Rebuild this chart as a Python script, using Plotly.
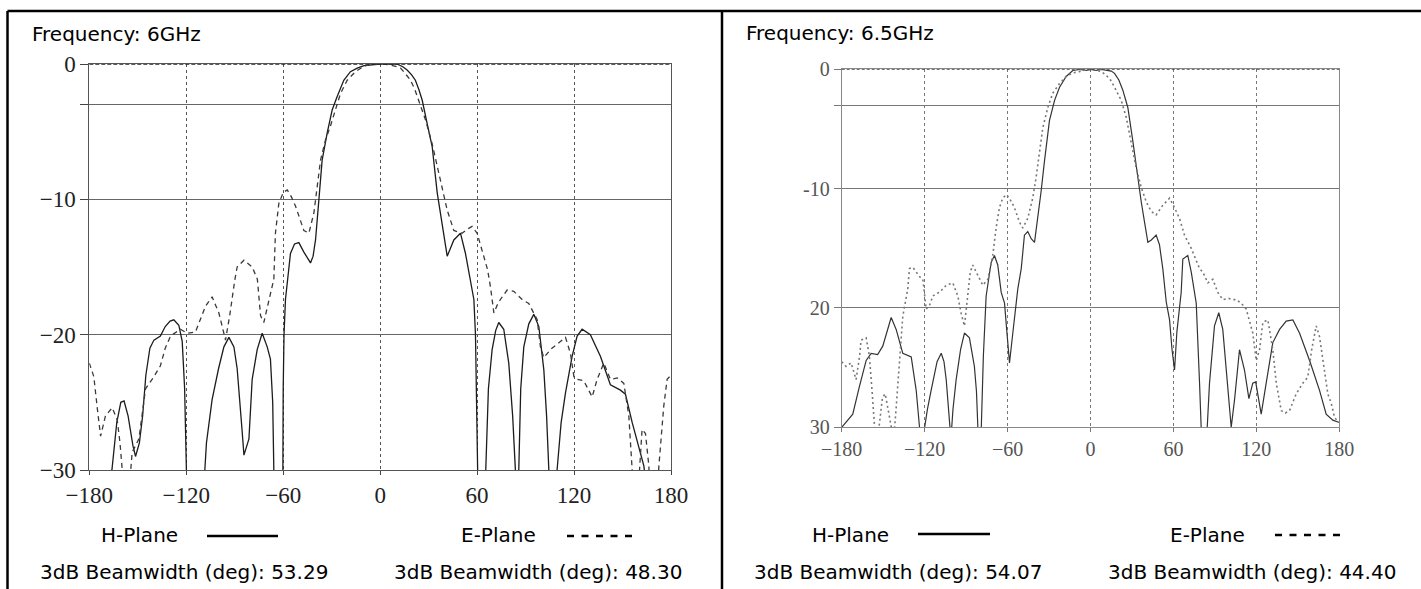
import plotly.graph_objects as go

W, H = 1421, 589

# ---------------- data ----------------
tick_deg = [-180, -120, -60, 0, 60, 120, 180]
tick_deg_text = ["\u2212180", "\u2212120", "\u221260", "0", "60", "120", "180"]
tick_db = [0, -3, -10, -20, -30]
tick_db_text_6 = ["0", "", "\u221210", "\u221220", "\u221230"]
tick_db_text_65 = ["0", "", "-10", "20", "30"]

# 6 GHz, H-plane (solid)
h6_deg = [-180, -168, -166, -163, -160.5, -158.5, -156, -153, -151.4, -149, -147, -145, -142.5, -140, -136, -133, -130,
          -127.7, -124.6, -122.5, -121, -120, -119, -114, -109, -107.5, -104, -100, -96.7, -93.6, -90.5, -88.5, -87.4,
          -85.5, -84.3, -81.2, -79.2, -76.1, -73, -69.9, -67.9, -66.5, -65.8, -64.5, -61, -60.2, -60, -59.5, -58.6, -57,
          -55.5, -53, -50.3, -47.2, -43.1, -41.5, -40, -37.9, -35.9, -32.8, -29.7, -26.6, -22.5, -18.4, -14.2, -10, -6,
          0, 5, 10.5, 14, 16.7, 19.5, 21.8, 24, 26, 29.1, 32.2, 35.3, 38.4, 41.5, 45.6, 49.7, 52.8, 55.9, 58, 59, 60,
          61, 64, 65.2, 67, 69.3, 71.5, 73.4, 76.5, 79.6, 82, 83.7, 84.5, 85, 85.8, 87, 88.9, 92, 95.1, 98.2, 101.3,
          103, 104.4, 105, 109, 109.5, 112, 114.7, 118.8, 121.9, 125, 130.1, 136.3, 142.5, 148.7, 151.8, 156, 160,
          163.2, 164.5, 170, 180]
h6_db = [-34, -31, -30, -26.5, -25.0, -24.9, -26, -28.2, -29, -28, -26, -23, -21, -20.4, -20.1, -19.4, -19.0,
         -18.9, -19.3, -20.5, -24, -30, -35, -35, -31, -28, -24.8, -22.5, -20.9, -20.2, -20.9, -22.5, -24,
         -27, -28.9, -27.7, -23.3, -21.1, -19.9, -20.9, -21.8, -25, -30, -35, -35, -30, -24, -20, -17.4, -15.5,
         -14, -13.3, -13.2, -13.9, -14.7, -14.2, -13, -10, -7.1, -5.1, -3.4, -2.4, -1.2, -0.57, -0.3, -0.12, -0.05,
         0, 0, 0, -0.2, -0.44, -0.8, -1.2, -1.9, -2.66, -4.4, -6.1, -9.5, -12, -14.2, -13, -12.5, -14, -16.2, -17.4, -20, -27,
         -35, -35, -30, -24, -21.1, -19.7, -19.1, -19.6, -22.1, -26, -30, -35, -35, -30, -24, -20.9, -19.2, -18.5, -19.4, -22.6,
         -26, -30, -35, -35, -30, -26.5, -24.3, -21.6, -20.1, -19.6, -20, -21.6, -23.7, -24.1, -24.4, -26.5, -28.2,
         -29.7, -31, -34, -36]

# 6 GHz, E-plane (dashed)
e6_deg = [-180, -177.2, -175, -173, -170, -165.8, -162.7, -161, -159.6, -158, -155, -153.5, -149.3, -147, -145.2, -140,
          -136, -133, -129.7, -123.6, -119.4, -114.3, -111, -108.1, -104, -99.8, -95.7, -93, -90, -88.5, -84.3, -79.2,
          -76, -74, -72, -68.9, -65.8, -64.8, -62.7, -60, -57.5, -55, -52.4, -47.2, -44.1, -41, -39, -36.9, -33.8, -30.8,
          -27.7, -24.6, -20.4, -15.3, -10, -5, 0, 5, 9, 12.6, 15.5, 18.8, 21.5, 23.9, 28, 32.2, 35.3, 38.4, 41.5, 45.6,
          50.7, 54, 56.9, 60, 62, 64.2, 66.5, 68.3, 70.4, 72.5, 74.4, 78.6, 82.7, 87.9, 92, 97.2, 99.2, 101.3, 105.4, 110.6,
          114.7, 117.8, 119.9, 121.9, 126, 131.2, 134.3, 138.4, 142.5, 146.7, 150.8, 153.9, 155.9, 157, 160, 162.1, 164.2,
          166.3, 167.5, 171, 172.5, 175.5, 177.6, 180]
e6_db = [-22.1, -23.1, -25.5, -27.5, -26, -25.4, -26.3, -28, -30, -33, -31, -28.7, -27.7, -25.5, -24, -23.1,
         -22.3, -21, -20.1, -19.6, -19.9, -19.8, -18.8, -17.9, -17.2, -18.4, -20.4, -18.5, -16, -15, -14.5, -15,
         -15.9, -18.6, -19.1, -17.4, -15.9, -12.5, -10.3, -9.5, -9.3, -9.8, -10.5, -12.3, -12.5, -11, -9.1, -7.1, -5.6, -4.6,
         -3.4, -2.2, -1.2, -0.57, -0.15, -0.03, 0, -0.05, -0.15, -0.3, -0.7, -1.2, -1.9, -2.66, -4.1, -5.9, -7.6, -9.3, -10.8, -12.3,
         -12.5, -12.2, -12, -12.5, -13.3, -14.2, -15.2, -16.5, -18.4, -17.8, -17.4, -16.7, -16.8, -17.4, -17.7, -18.9, -20.9, -21.7, -21.1, -20.6,
         -20.2, -21.4, -23.1, -23.3, -23.4, -24.6, -23.3, -22.1, -23.3, -23.2, -23.6, -26, -29.7, -32, -31, -27, -27.3,
         -29.7, -33, -33, -29.7, -25.3, -23.3, -23]

# 6.5 GHz, H-plane (solid)
h65_deg = [-180, -177, -172, -167.2, -162.3, -158.7, -154, -150.3, -147, -144.2, -140.6, -135.8, -129.7, -126.1, -123.7,
           -122.5, -121.3, -118, -115.3, -111, -108, -106, -104.4, -102, -101, -99.5, -97.2, -94, -91.2, -87.6, -84,
           -82.5, -81.6, -80.5, -79, -77.5, -75.5, -71.9, -69.5, -67.1, -64.6, -62.2, -60.5, -58.6, -56.2, -52.6, -50.1,
           -47.8, -45.4, -42.9, -40.5, -38.1, -35.7, -33.3, -29.7, -26, -22.4, -17.6, -12.8, -8, -3, 0, 4, 8, 12, 15,
           17.4, 20.5, 23.4, 27, 30.6, 34.2, 36.7, 39.1, 41.5, 44, 47.5, 49.9, 52.3, 54.8, 57.2, 59, 60.8, 62.5, 65.6,
           66.8, 70.4, 72.9, 75.3, 76.5, 78.9, 80.1, 81, 84, 86.1, 89.7, 92.8, 95.7, 99.3, 101.8, 104.2, 107.8, 111.4,
           114.6, 117.4, 119.5, 121, 123.5, 127.1, 131.9, 136.8, 141.6, 146.4, 151.2, 158.5, 165.7, 170.5, 175.3, 180]
h65_db = [-30, -29.6, -28.9, -26.6, -24.4, -23.8, -23.9, -23.2, -21.8, -20.8, -21.8, -23.8, -24.1, -26.9, -30,
          -33, -31, -28.5, -26.9, -24.5, -23.8, -24.5, -26, -30, -31, -28.5, -26, -23.5, -22.1, -22.5, -24.9,
          -27, -30, -33, -30, -24, -19, -16.2, -15.6, -16.4, -18.7, -19.6, -22, -24.6, -22.1, -18.4, -16.7,
          -13.9, -13.6, -14.2, -14.5, -12.5, -10.2, -7.7, -4.3, -2.6, -1.5, -0.6, -0.1, 0, -0.1, 0, -0.1, 0, -0.05, -0.15,
          -0.34, -0.9, -1.75, -3.2, -6, -9.1, -11.1, -12.8, -14.5, -14.3, -13.9, -14.7, -16.7, -19.5, -21, -23.5, -25.2, -22, -18.7,
          -15.9, -15.6, -17, -18.7, -19.6, -26.3, -30, -33, -31, -26.3, -21.5, -20.4, -21.8, -26.3, -30, -27.7, -23.5, -25.2,
          -27.6, -26.3, -26.2, -27.2, -28.9, -26.3, -22.9, -21.8, -21.1, -21, -22.1, -24.4, -26.9, -28.9, -29.4, -29.6]

# 6.5 GHz, E-plane (dotted)
e65_deg = [-180, -176.8, -173.2, -169.6, -167, -166, -162.3, -160, -158, -156, -155, -153, -150.5, -148.5, -146.5, -144,
           -142.5, -141, -139.4, -135.8, -132.2, -131, -128.5, -126, -123.5, -121.3, -118.9, -116.5, -114.1, -111.5,
           -109.3, -104.4, -99.6, -96, -93.5, -91.2, -89, -87, -85.2, -81.5, -77.9, -74.3, -70.7, -68.3, -65.9, -63.5,
           -61, -58.6, -55, -51.4, -49, -45.4, -41.8, -39.4, -36.9, -34.5, -30.9, -27.3, -22.4, -17.6, -12.8, -8, -4, 0.6,
           5, 8, 11.4, 14.5, 17.4, 22.2, 25.8, 29.4, 33.1, 36.7, 40.3, 43.9, 47.5, 52.3, 57.2, 60.8, 64.4, 68, 72.9, 78.9,
           81.3, 84.9, 88.5, 92.1, 95.7, 100, 103, 105.4, 109, 112.7, 117.4, 119.9, 122.3, 124.7, 128.3, 131.9, 134.4, 138,
           141, 144, 148.8, 153.6, 157.2, 160, 163.3, 165.7, 168.1, 171.7, 174.2, 176.6, 180]
e65_db = [-24.5, -24.9, -24.6, -26, -24, -22.7, -22.5, -24, -27, -30, -32, -30, -27.5, -27.2, -28.5, -30,
          -31, -29, -26.3, -20.7, -18.4, -16.7, -16.6, -17, -17.4, -17.6, -20.1, -19.8, -19, -18.8,
          -18.7, -18.1, -17.9, -19, -20.5, -21.5, -19, -17, -16.4, -17.3, -18.1, -17.6, -15.6, -13.3, -11.6, -10.8,
          -10.5, -10.8, -11.6, -12.8, -13.3, -12.5, -10.8, -9.1, -6.8, -4.9, -3.2, -2, -1.2, -0.6, -0.3, -0.2, -0.05, 0,
          -0.1, -0.2, -0.5, -0.9, -1.5, -2.6, -4, -6, -8.3, -9.9, -11.1, -11.9, -12.2, -11.4, -10.8, -11.6, -12.5, -13.9, -15, -16.7,
          -17, -17.9, -17.6, -18.7, -19.3, -19.2, -19.3, -19.3, -19.6, -20.1, -22.1, -24.4, -23.5, -21.2, -21, -23.5, -26.3, -28.6,
          -28.8, -28.6, -27.2, -26.3, -25.8, -23.5, -21.5, -22.4, -24.4, -27.2, -28, -29.2, -29.6]

beam_h6, beam_e6 = "53.29", "48.30"
beam_h65, beam_e65 = "54.07", "44.40"

# ---------------- figure ----------------
fig = go.Figure()
fig.add_trace(go.Scatter(x=h6_deg, y=h6_db, mode="lines", xaxis="x", yaxis="y",
                         line=dict(color="#1c1c1c", width=1.3), showlegend=False, hoverinfo="skip"))
fig.add_trace(go.Scatter(x=e6_deg, y=e6_db, mode="lines", xaxis="x", yaxis="y",
                         line=dict(color="#3a3a3a", width=1.3, dash="5px,4px"), showlegend=False, hoverinfo="skip"))
fig.add_trace(go.Scatter(x=h65_deg, y=h65_db, mode="lines", xaxis="x2", yaxis="y2",
                         line=dict(color="#333333", width=1.2), showlegend=False, hoverinfo="skip"))
fig.add_trace(go.Scatter(x=e65_deg, y=e65_db, mode="lines", xaxis="x2", yaxis="y2",
                         line=dict(color="#777777", width=1.6, dash="2px,3px"), showlegend=False, hoverinfo="skip"))


def px_x(p):
    return p / W


def px_y(p):
    return 1 - p / H


serif = "Liberation Serif, DejaVu Serif, serif"
common_x = dict(range=[-180, 180], tickvals=tick_deg, ticktext=tick_deg_text, showgrid=True, automargin=False,
                zeroline=False, showline=True, mirror=True, ticks="outside", griddash="dot")
common_y = dict(range=[-30, 0], tickvals=tick_db, showgrid=True, zeroline=False, automargin=False,
                showline=True, mirror=True, ticks="outside")

fig.update_layout(
    template="none",
    width=W, height=H, margin=dict(l=0, r=0, t=0, b=0, pad=0, autoexpand=False),
    paper_bgcolor="white", plot_bgcolor="white", showlegend=False,
    xaxis=dict(**common_x, domain=[px_x(89.3), px_x(671)], anchor="y",
               gridcolor="#555555", linecolor="#555555", tickcolor="#444444", ticklen=4,
               tickfont=dict(family=serif, size=23, color="#222222")),
    yaxis=dict(**common_y, domain=[px_y(470), px_y(64)], anchor="x", ticktext=tick_db_text_6,
               gridcolor="#666666", linecolor="#555555", tickcolor="#444444", ticklen=8,
               tickfont=dict(family=serif, size=23, color="#222222")),
    xaxis2=dict(**common_x, domain=[px_x(841.7), px_x(1339.3)], anchor="y2",
                gridcolor="#777777", linecolor="#888888", tickcolor="#777777", ticklen=4,
                tickfont=dict(family=serif, size=20, color="#555555")),
    yaxis2=dict(**common_y, domain=[px_y(427.3), px_y(69.3)], anchor="x2", ticktext=tick_db_text_65,
                gridcolor="#777777", linecolor="#888888", tickcolor="#777777", ticklen=7,
                tickfont=dict(family=serif, size=20, color="#555555")),
)

# dashed top (0 dB) border lines, as in the scans
fig.add_shape(type="line", xref="x", yref="y", x0=-180, x1=180, y0=0, y1=0,
              line=dict(color="#222222", width=1.4, dash="4px,2px"))
fig.add_shape(type="line", xref="x2", yref="y2", x0=-180, x1=180, y0=0, y1=0,
              line=dict(color="#444444", width=1.4, dash="3px,2px"))

sans = "DejaVu Sans, Arial, sans-serif"
texts = [
    ("Frequency: 6GHz", 116.5, 34),
    ("H-Plane", 139.5, 535),
    ("E-Plane", 498.5, 535),
    ("3dB Beamwidth (deg): " + beam_h6, 184, 572),
    ("3dB Beamwidth (deg): " + beam_e6, 537.5, 572),
    ("Frequency: 6.5GHz", 840, 33),
    ("H-Plane", 850.5, 535),
    ("E-Plane", 1207.5, 535),
    ("3dB Beamwidth (deg): " + beam_h65, 898, 572),
    ("3dB Beamwidth (deg): " + beam_e65, 1252, 572),
]
for t, cx, cy in texts:
    fig.add_annotation(text=t, x=px_x(cx), y=px_y(cy), xref="paper", yref="paper",
                       xanchor="center", yanchor="middle", showarrow=False,
                       font=dict(family=sans, size=20, color="black"))

# legend line samples
samples = [
    (207, 278, 536, "solid"),
    (567, 632, 536, "7px,7.5px"),
    (918, 990, 534, "solid"),
    (1275, 1340, 535, "7px,7.5px"),
]
for x0, x1, y0, d in samples:
    fig.add_shape(type="line", xref="paper", yref="paper", x0=px_x(x0), x1=px_x(x1),
                  y0=px_y(y0), y1=px_y(y0), line=dict(color="black", width=2.5, dash=d))

# outer frame
frame = [
    (7.5, 11, 1421, 11),
    (7.5, 11, 7.5, 589),
    (722, 11, 722, 589),
]
for x0, y0, x1, y1 in frame:
    fig.add_shape(type="line", xref="paper", yref="paper", x0=px_x(x0), x1=px_x(x1),
                  y0=px_y(y0), y1=px_y(y1), line=dict(color="black", width=2.5))

fig.write_html("out.html", config={"responsive": False, "displayModeBar": False},
               post_script="document.body.style.margin='0px';document.body.style.overflow='hidden';")
